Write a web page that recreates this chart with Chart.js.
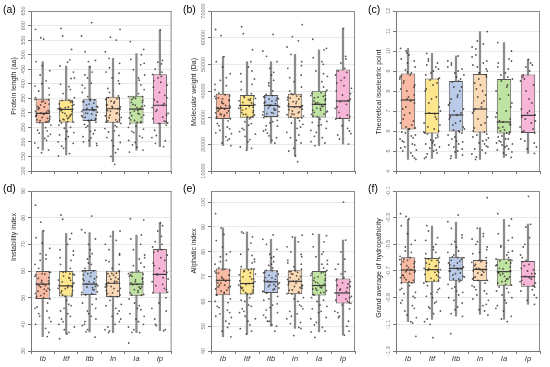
<!DOCTYPE html>
<html><head><meta charset="utf-8">
<script src="https://cdn.jsdelivr.net/npm/chart.js@4.4.1/dist/chart.umd.min.js"></script>
<style>
html,body{margin:0;padding:0;background:#fff;}
#wrap{position:relative;width:550px;height:367px;overflow:hidden;background:#fff;}
.p{position:absolute;}
</style></head><body><div id="wrap">
<div class="p" style="left:0;top:0;width:180px;height:180px"><canvas id="ca"></canvas></div>
<div class="p" style="left:180px;top:0;width:185px;height:180px"><canvas id="cb"></canvas></div>
<div class="p" style="left:365px;top:0;width:185px;height:180px"><canvas id="cc"></canvas></div>
<div class="p" style="left:0;top:180px;width:180px;height:187px"><canvas id="cd"></canvas></div>
<div class="p" style="left:180px;top:180px;width:185px;height:187px"><canvas id="ce"></canvas></div>
<div class="p" style="left:365px;top:180px;width:185px;height:187px"><canvas id="cf"></canvas></div>
</div>
<script>
const categories = ['Ib','Itf','Itb','In','Ia','Ip'];
const boxColors = ['#F9BBA3','#FEE68E','#B9CBE9','#F9D9B6','#BFE3A2','#F7B5D7'];
const jitter = [-0.31,0.12,0.27,-0.08,0.19,-0.22,0.04,0.33,-0.15,-0.28,0.09,0.23,-0.02,-0.34,0.16,0.30,-0.19,0.06,-0.11,0.25,-0.26,0.14,-0.05,0.31,-0.33,0.02,0.21,-0.17,0.11,-0.24,0.28,-0.09,0.18,-0.30,0.07,-0.13,0.26,-0.20,0.35,-0.04];

// (a) Protein length — box: [min, q1, median, q3, max]
const lengthTicks = [100,150,200,250,300,350,400,450,500,550,600,650];
const lengthBox = [[172,264,298,348,476],[155,267,312,345,461],[184,272,310,347,461],[132,266,314,355,487],[172,263,313,359,504],[184,262,326,433,585]];
const lengthPoints = [
 [587,558,553,476,462,445,430,410,392,375,362,352,345,338,330,322,315,308,302,297,292,287,281,276,270,266,258,249,238,226,212,196,180,172,163,340,333,327,320,312,306,300,295,290,284,279,273,268,346,318,304,288,272,400,385,240,230,220,205],
 [590,564,518,482,474,461,440,418,398,380,366,352,344,336,328,320,314,310,305,298,290,283,276,270,265,258,247,236,224,210,195,178,160,152,342,337,331,324,318,312,307,301,295,288,280,273,268,340,316,292,278,420,390,250,232,218,200,185],
 [610,564,510,480,476,458,440,420,402,385,370,356,346,338,330,322,315,310,305,299,292,286,280,274,268,260,250,240,228,214,200,188,344,339,333,327,320,314,308,302,296,290,284,278,273,342,318,298,276,430,395,255,236,218,205,195],
 [587,560,550,510,487,470,440,436,420,400,384,370,358,348,338,328,320,314,308,300,292,284,276,270,264,256,246,234,222,205,186,163,150,123,352,346,340,333,326,319,312,305,298,290,283,276,268,350,322,294,272,455,410,252,238,215,198,175],
 [545,518,500,484,465,448,430,412,396,380,366,356,346,336,326,318,312,306,298,290,282,274,268,262,254,244,232,220,205,190,172,165,356,350,343,336,329,322,315,308,300,292,284,276,266,352,325,296,270,470,420,250,236,215,198,182],
 [585,480,474,468,450,432,420,405,388,370,352,338,326,318,305,292,280,270,263,258,240,222,204,184,425,410,395,360,345,332,310,298,285,272,265,440,215,195]
];
// (b) Molecular weight
const weightTicks = [10000,20000,30000,40000,50000,60000,70000];
const weightBox = [[19500,29500,33500,39000,52900],[18100,30000,34600,38500,51000],[20400,30250,34600,38500,51000],[15600,29750,34100,39000,53750],[19500,30100,35000,40100,55400],[20100,29500,36250,48100,63500]];
const weightPoints = [
 [63100,60800,52900,51000,49000,46500,44000,42000,40500,39200,38200,37200,36300,35400,34500,33800,33200,32500,31800,31000,30300,29600,28800,27800,26500,25200,24000,22800,21500,19500,38600,38000,37400,36700,36000,35300,34600,33900,33200,32500,31800,31100,30400,29800,37000,34000,31500,45000,42500,27000,25800,24300,22000,20500],
 [64100,61500,55500,51000,49000,46500,44500,42500,40500,39000,38000,37200,36400,35500,34800,34200,33500,32800,32000,31200,30400,29600,28500,27200,26000,24800,23000,21000,19000,17800,38200,37600,37000,36300,35700,35100,34500,33900,33300,32600,31900,31200,30500,30100,36800,33700,31000,47500,43500,27800,25500,23800,21800,18500],
 [61200,55000,53000,51000,48500,46000,44000,42000,40000,38700,37800,37000,36200,35400,34800,34200,33600,32900,32200,31500,30800,30000,29000,28000,26800,25500,24200,22500,20400,38300,37700,37100,36500,35900,35300,34700,34100,33500,32900,32300,31700,31000,30400,37300,34400,31900,47000,43000,28500,27000,25000,23200,21500],
 [64900,60400,58800,56500,53700,51000,48500,46000,43500,41500,40000,39000,38000,37000,36000,35200,34500,33800,33000,32200,31400,30600,29800,28800,27500,26000,24500,22500,20500,18500,15600,13500,38700,38100,37400,36700,36000,35300,34600,33900,33200,32500,31800,31100,30400,29900,37600,34200,31200,49500,45000,28000,26500,23500,21500,17500],
 [59400,56000,55400,52500,50000,47500,45500,43500,41500,40300,39300,38300,37400,36500,35600,35000,34400,33600,32800,32000,31200,30400,29400,28200,27000,26000,24500,22500,21000,19500,39800,39100,38400,37700,37000,36300,35600,34900,34200,33500,32800,32100,31400,30600,38000,35200,32400,51000,46500,28600,27300,25200,23000,20500],
 [63500,53000,50500,48500,47500,46000,44000,42000,40000,38500,37000,36000,35000,33500,32000,30500,29500,29000,27000,25000,23500,22000,20100,47000,45000,43000,39000,36500,34000,31000,30000,41000,52000,26000,24000]
];
// (c) Theoretical isoelectric point
const pITicks = [4,5,6,7,8,9,10,11,12];
const pIBox = [[4.58,6.08,7.55,8.88,10.13],[4.63,5.88,6.88,8.63,9.88],[4.63,5.97,6.8,8.5,9.75],[4.58,5.92,7.1,8.85,10.97],[4.68,5.87,6.45,8.6,10.42],[4.88,5.9,6.78,8.82,9.58]];
const pIPoints = [
 [10.13,10.0,9.8,9.6,9.4,9.2,9.05,8.9,8.7,8.5,8.3,8.1,7.8,7.6,7.4,7.1,6.8,6.5,6.3,6.1,5.95,5.8,5.65,5.5,5.35,5.2,5.05,4.9,4.75,4.58,8.8,8.6,8.4,8.2,8.0,7.7,7.5,7.2,6.9,6.6,6.4,6.2,6.1,8.75,8.95,6.15,5.9,5.75,5.6,5.45,5.3,5.15,9.5,9.9,4.65,5.0],
 [9.88,9.6,9.4,9.2,9.0,8.8,8.65,8.4,8.1,7.7,7.4,7.0,6.85,6.6,6.3,6.1,5.95,5.85,5.7,5.55,5.4,5.3,5.15,5.0,4.85,4.63,8.55,8.3,8.0,7.6,7.2,6.9,6.7,6.4,6.2,6.0,5.9,8.6,8.9,9.1,9.3,9.5,5.8,5.65,5.5,5.35,5.2,4.9,4.7,5.05],
 [9.75,9.5,9.3,9.1,8.9,8.7,8.5,8.2,7.8,7.6,7.3,7.0,6.8,6.6,6.4,6.2,6.05,5.95,5.8,5.6,5.45,5.3,5.1,4.95,4.8,4.63,8.45,8.2,8.0,7.7,7.4,7.1,6.9,6.7,6.5,6.3,6.1,6.0,8.6,8.8,9.0,9.2,9.4,5.9,5.7,5.5,5.35,5.2,5.0,4.75],
 [10.97,10.5,10.35,10.2,9.8,9.5,9.3,9.1,8.9,8.7,8.4,8.1,7.8,7.5,7.2,7.0,6.7,6.4,6.15,5.95,5.8,5.65,5.5,5.35,5.2,5.05,4.85,4.58,8.8,8.6,8.3,8.0,7.7,7.4,7.1,6.9,6.6,6.3,6.0,8.9,9.0,9.2,9.4,9.7,10.1,5.85,5.7,5.55,5.4,5.25,5.1,4.7,4.9],
 [10.42,10.0,9.6,9.4,9.1,8.8,8.6,8.2,7.8,7.4,7.0,6.7,6.5,6.35,6.2,6.05,5.9,5.75,5.6,5.5,5.4,5.3,5.2,5.05,4.9,4.68,8.5,8.3,8.0,7.6,7.2,6.9,6.6,6.45,6.3,6.15,6.0,5.95,8.7,8.9,9.2,9.5,5.85,5.7,5.6,5.45,5.35,5.25,5.1,4.95,4.8],
 [9.58,9.4,9.2,9.0,8.8,8.5,8.0,7.6,7.1,6.9,6.8,6.6,6.4,6.2,6.0,5.9,5.6,5.4,5.1,4.88,8.7,8.6,8.3,7.4,7.0,6.7,6.5,6.1,5.95,9.3,5.5,5.2]
];
// (d) Instability index
const instabTicks = [30,40,50,60,70,80,90];
const instabBox = [[35.4,49.5,55.1,60,75.1],[36.4,50.4,54.4,60,74.1],[37.2,51,55.1,60.4,74.4],[36.9,50.25,55.4,60.1,75],[36.9,50.75,55.1,59.75,73.5],[37.6,51.6,58.75,68.25,78.1]];
const instabPoints = [
 [84.7,78.3,75.1,72.5,70.5,68.5,66.5,64.5,62.5,61,59.5,58.5,57.5,56.5,55.5,55,54.5,53.5,52.5,51.5,50.5,49.5,48,46.5,45,43,41,38.5,35.4,59.5,58.8,58,57.2,56.4,55.8,55.2,54.6,54,53.2,52.4,51.6,50.8,50,49.8,59,53,64,66,46,44,42.5,40,37],
 [81,79.4,74.1,72,70,68,66,64,62.5,61,59.5,58.5,57.5,56.5,55.5,54.5,53.5,52.5,51.5,50.5,49,47.5,46,44,42,40,38,36.4,34.6,59.6,58.8,58.1,57.3,56.6,55.9,55.2,54.6,54,53.3,52.6,51.8,51,50.6,59,53.8,65,67.5,47,45,43,41,39,37],
 [80.6,75.5,74.4,72,70,68,66.5,64.5,62.5,61,60,59,58,57,56,55,54,53,52,51,49.5,48,46,44,42,40,37.2,35.2,60,59.3,58.6,57.8,57.1,56.4,55.7,55.1,54.5,53.8,53,52.2,51.5,51.1,59.8,54.2,63,65.5,47.5,45,43,41,39.5,38],
 [75,73,71.5,70,68,66,64,62.5,61,60,59,58,57,56,55.5,54.5,53.5,52.5,51.5,50.3,49,47.5,46,44,42,40,38,36.9,59.8,59.1,58.4,57.6,56.9,56.2,55.6,55,54.2,53.4,52.6,51.8,51,50.5,59.2,54,63.5,66.5,47,45,43,41,39,37.5],
 [79.6,79.2,73.5,72,70,68,66,64.5,63,61.5,60,59,58,57,56,55,54,53,52,51,49.5,48,46,44,42,40,38,36.9,33,59.5,58.8,58.1,57.4,56.7,56,55.4,54.8,54.1,53.4,52.6,51.8,51.2,50.9,58.5,53.5,62,65,47,45.5,43,41,39,37],
 [78.1,77,75,73,71,69,67.5,65,63,61,59.5,58.5,57.5,56,54.5,53,51.8,50,48,45,42,39.5,38,37.6,68,67,66,64,62,60,58.8,57,55,53.5,52,70,46,40]
];
// (e) Aliphatic index
const aliphTicks = [40,50,60,70,80,90,100];
const aliphBox = [[45.7,62.5,68.5,73.3,89.6],[46.8,62.8,67.2,73.3,88],[50,63.4,67.9,72.6,85],[49.1,62.9,68.1,72.6,86],[47.7,62.4,66.4,72.2,87.1],[46.4,59.1,63.4,69.2,84.7]];
const aliphPoints = [
 [95.4,89.6,87,84.5,82,80,78,76.5,75,73.5,72.5,71.5,70.5,69.5,68.5,67.5,66.5,65.5,64.5,63.5,62.5,61,59.5,58,56.5,55,53.5,52,49.5,45.7,73,72.2,71.4,70.6,69.8,69,68.2,67.4,66.6,65.8,65,64.2,63.4,62.7,72.8,66,76,79,60,57.5,55.5,54,51,48],
 [88,87.5,86,83.5,81,79,77,75.5,74,73,72,71,70,69,68,67.2,66.5,65.5,64.5,63.5,62.8,61.5,60,58.5,57,55.5,54,52,49,46.8,73.1,72.3,71.5,70.7,69.9,69.1,68.3,67.5,66.8,66,65.2,64.4,63.6,63,72.7,65.8,76,78.5,60.5,58,56,53,50.5,48],
 [86.8,85,83,81,79,77.5,76,74.5,73.5,72.5,71.5,70.5,69.5,68.5,67.9,67,66,65,64,63.4,62,60.5,59,57.5,55.5,53.5,52,50,48,72.4,71.7,71,70.3,69.6,68.9,68.2,67.5,66.8,66.1,65.4,64.7,64,63.5,72,66.5,75,78,61,58.5,56.5,54.5,52,50.5],
 [86.7,86,84,82,80,78,76.5,75,74,73,72,71,70,69,68.1,67.5,66.5,65.5,64.5,63.5,62.9,61.5,60,58.5,57,55,53,51,49.1,46.2,72.4,71.7,71,70.3,69.6,68.9,68.1,67.4,66.7,66,65.3,64.6,63.8,63.1,72,66.2,75.5,79,61,58,56,54,51.5,49.5],
 [87.1,86.5,84,82,80,78,76.5,75,73.5,72.5,71.5,70.5,69.5,68.5,67.5,66.4,65.5,64.5,63.5,62.5,61.5,60,58.5,57,55.5,53.5,51.5,49.5,47.7,45.5,72,71.3,70.6,69.9,69.2,68.5,67.8,67.1,66.4,65.7,65,64.3,63.6,62.8,71.7,65.2,75,79,60.5,58,56,53,50.5,48],
 [100,84.7,80,77,75,73,71,69.5,68.5,67.5,66,65,64,63.4,62.5,61.5,60.5,59.5,58.5,57,55.5,54,52,50,46.4,69,68,67,66.5,65.5,64.5,62,61,60,59.2,72,56,53.5,48]
];
// (f) Grand average of hydropathicity
const gravyTicks = [-1.3,-1.1,-0.9,-0.7,-0.5,-0.3,-0.1];
const gravyBox = [[-1.08,-0.792,-0.693,-0.597,-0.313],[-1.063,-0.785,-0.69,-0.603,-0.363],[-1.038,-0.773,-0.68,-0.593,-0.333],[-1.025,-0.775,-0.688,-0.618,-0.375],[-1.063,-0.81,-0.705,-0.608,-0.313],[-0.95,-0.818,-0.743,-0.625,-0.348]];
const gravyPoints = [
 [-0.27,-0.29,-0.31,-0.36,-0.42,-0.47,-0.52,-0.56,-0.59,-0.61,-0.63,-0.65,-0.67,-0.69,-0.71,-0.73,-0.75,-0.77,-0.79,-0.81,-0.83,-0.86,-0.89,-0.92,-0.96,-1.0,-1.05,-1.08,-1.09,-1.19,-0.6,-0.615,-0.63,-0.645,-0.66,-0.675,-0.69,-0.705,-0.72,-0.735,-0.75,-0.765,-0.78,-0.79,-0.62,-0.7,-0.55,-0.5,-0.84,-0.87,-0.9,-0.94,-0.98,-1.03],
 [-0.36,-0.40,-0.45,-0.5,-0.54,-0.57,-0.6,-0.62,-0.64,-0.66,-0.68,-0.69,-0.71,-0.73,-0.75,-0.77,-0.79,-0.81,-0.84,-0.87,-0.9,-0.94,-0.98,-1.02,-1.06,-1.08,-1.1,-1.2,-0.605,-0.62,-0.635,-0.65,-0.665,-0.68,-0.695,-0.71,-0.725,-0.74,-0.755,-0.77,-0.78,-0.61,-0.7,-0.56,-0.52,-0.47,-0.83,-0.86,-0.89,-0.93,-0.97,-1.0],
 [-0.28,-0.33,-0.38,-0.43,-0.48,-0.52,-0.55,-0.58,-0.6,-0.62,-0.64,-0.66,-0.68,-0.7,-0.72,-0.74,-0.76,-0.78,-0.8,-0.83,-0.86,-0.9,-0.94,-0.99,-1.04,-1.17,-0.595,-0.61,-0.625,-0.64,-0.655,-0.67,-0.685,-0.7,-0.715,-0.73,-0.745,-0.76,-0.77,-0.6,-0.69,-0.56,-0.5,-0.45,-0.82,-0.85,-0.88,-0.92,-0.97,-1.02],
 [-0.15,-0.38,-0.42,-0.46,-0.5,-0.54,-0.57,-0.6,-0.62,-0.64,-0.66,-0.68,-0.69,-0.71,-0.73,-0.75,-0.77,-0.79,-0.82,-0.85,-0.88,-0.92,-0.96,-1.0,-1.03,-0.62,-0.635,-0.65,-0.665,-0.68,-0.69,-0.7,-0.715,-0.73,-0.745,-0.76,-0.77,-0.63,-0.7,-0.56,-0.52,-0.48,-0.44,-0.81,-0.84,-0.87,-0.91,-0.95,-0.99],
 [-0.27,-0.31,-0.36,-0.42,-0.47,-0.51,-0.55,-0.58,-0.6,-0.62,-0.64,-0.66,-0.68,-0.7,-0.72,-0.74,-0.76,-0.78,-0.8,-0.82,-0.85,-0.88,-0.92,-0.96,-1.0,-1.04,-1.06,-1.08,-0.61,-0.625,-0.64,-0.655,-0.67,-0.685,-0.7,-0.715,-0.73,-0.745,-0.76,-0.775,-0.79,-0.805,-0.62,-0.71,-0.56,-0.52,-0.45,-0.83,-0.86,-0.9,-0.94,-0.98],
 [-0.14,-0.35,-0.37,-0.45,-0.52,-0.58,-0.62,-0.65,-0.68,-0.7,-0.72,-0.74,-0.76,-0.78,-0.8,-0.82,-0.85,-0.88,-0.92,-0.95,-0.63,-0.66,-0.69,-0.72,-0.75,-0.77,-0.79,-0.81,-0.6,-0.84,-0.5,-0.9]
];

const FONT = '"Liberation Sans", Arial, sans-serif';

function decor(cfg) {
  return {
    id: 'decor_' + cfg.label,
    afterDraw(chart) {
      const ctx = chart.ctx, a = chart.chartArea, ys = chart.scales.y;
      ctx.save();
      ctx.strokeStyle = '#8a8a8a'; ctx.lineWidth = 1;
      ctx.beginPath();
      ctx.moveTo(a.left, a.top + 0.5); ctx.lineTo(a.right, a.top + 0.5);
      ctx.moveTo(a.right - 0.5, a.top); ctx.lineTo(a.right - 0.5, a.bottom);
      ctx.stroke();
      ctx.fillStyle = '#7a7a7a';
      ctx.font = '5.5px ' + FONT;
      ctx.textAlign = 'center'; ctx.textBaseline = 'middle';
      cfg.ticks.forEach(v => {
        const y = ys.getPixelForValue(v);
        ctx.save(); ctx.translate(a.left - 7.5, y); ctx.rotate(-Math.PI / 2);
        ctx.fillText(cfg.fmt(v), 0, 0); ctx.restore();
      });
      ctx.fillStyle = '#262626'; ctx.font = '7px ' + FONT;
      ctx.save(); ctx.translate(14, cfg.titleY); ctx.rotate(-Math.PI / 2);
      ctx.fillText(cfg.title, 0, 0); ctx.restore();
      ctx.fillStyle = '#000'; ctx.font = '10.5px ' + FONT;
      ctx.textAlign = 'left';
      ctx.fillText(cfg.label, 3, cfg.labelY);
      ctx.restore();
    }
  };
}

function makePanel(id, cfg) {
  const el = document.getElementById(id);
  const w = el.parentNode.clientWidth, h = el.parentNode.clientHeight;
  const box = cfg.box, pts = cfg.points;
  const scatter = [];
  pts.forEach((arr, g) => arr.forEach((v, i) => {
    scatter.push({x: g + jitter[(i * 3 + g * 5) % jitter.length], y: v});
  }));
  new Chart(el, {
    type: 'bar',
    data: {
      datasets: [
        {type: 'scatter', data: scatter, pointRadius: 0.9, pointHoverRadius: 0.9,
         backgroundColor: 'rgba(55,48,42,0.8)', borderWidth: 0, order: 1},
        {type: 'scatter', data: box.map((b, i) => ({x: i, y: b[2]})), pointStyle: 'line',
         pointRadius: 7.2, pointHoverRadius: 7.2, borderColor: '#3a3a3a', borderWidth: 1.2, order: 2},
        {type: 'bar', data: box.map((b, i) => ({x: i, y: [b[1], b[3]]})),
         backgroundColor: boxColors, borderColor: '#5a5a5a', borderWidth: 1, borderSkipped: false,
         barPercentage: 0.6, categoryPercentage: 1, grouped: false, order: 3},
        {type: 'bar', data: box.map((b, i) => ({x: i, y: [b[0], b[4]]})),
         backgroundColor: '#8c8c8c', barThickness: 1.6, grouped: false, order: 4}
      ]
    },
    options: {
      responsive: true, maintainAspectRatio: false, animation: false,
      devicePixelRatio: 1,
      layout: {padding: {left: 0, top: 11, right: w - 175, bottom: 0}},
      plugins: {legend: {display: false}, tooltip: {enabled: false}},
      events: [],
      scales: {
        x: {
          type: 'linear', min: -0.5, max: 5.5, offset: false,
          afterBuildTicks: s => { s.ticks = categories.map((c, i) => ({value: i})); },
          afterFit: s => { s.height = h - 171; },
          grid: {drawOnChartArea: false, drawTicks: true, tickLength: 3, tickColor: '#777'},
          border: {display: true, color: '#777', width: 1},
          ticks: {display: cfg.showX, padding: 0, color: '#333',
                  font: {family: FONT, size: 7.5, style: 'italic'},
                  callback: v => categories[v], maxRotation: 0, autoSkip: false}
        },
        y: {
          min: cfg.min, max: cfg.max,
          afterBuildTicks: s => { s.ticks = cfg.ticks.map(v => ({value: v})); },
          afterFit: s => { s.width = 31; },
          grid: {color: '#e8e8e8', tickColor: '#777', tickLength: 3, drawTicks: true},
          border: {display: true, color: '#777', width: 1},
          ticks: {display: false}
        }
      }
    },
    plugins: [decor(cfg)]
  });
}

const fmtInt = v => String(v);
makePanel('ca', {label: '(a)', labelY: 10, title: 'Protein length (aa)', titleY: 86, ticks: lengthTicks, fmt: fmtInt, min: 100, max: 650, box: lengthBox, points: lengthPoints, showX: false});
makePanel('cb', {label: '(b)', labelY: 10, title: 'Molecular weight (Da)', titleY: 92, ticks: weightTicks, fmt: fmtInt, min: 10000, max: 70000, box: weightBox, points: weightPoints, showX: false});
makePanel('cc', {label: '(c)', labelY: 10, title: 'Theoretical isoelectric point', titleY: 92, ticks: pITicks, fmt: fmtInt, min: 4, max: 12, box: pIBox, points: pIPoints, showX: false});
makePanel('cd', {label: '(d)', labelY: 9, title: 'Instability index', titleY: 57, ticks: instabTicks, fmt: fmtInt, min: 30, max: 90, box: instabBox, points: instabPoints, showX: true});
makePanel('ce', {label: '(e)', labelY: 9, title: 'Aliphatic index', titleY: 71, ticks: aliphTicks, fmt: fmtInt, min: 40, max: 104.5, box: aliphBox, points: aliphPoints, showX: true});
makePanel('cf', {label: '(f)', labelY: 9, title: 'Grand average of hydropathicity', titleY: 88, ticks: gravyTicks, fmt: v => v.toFixed(1), min: -1.3, max: -0.1, box: gravyBox, points: gravyPoints, showX: true});
</script>
</body></html>
